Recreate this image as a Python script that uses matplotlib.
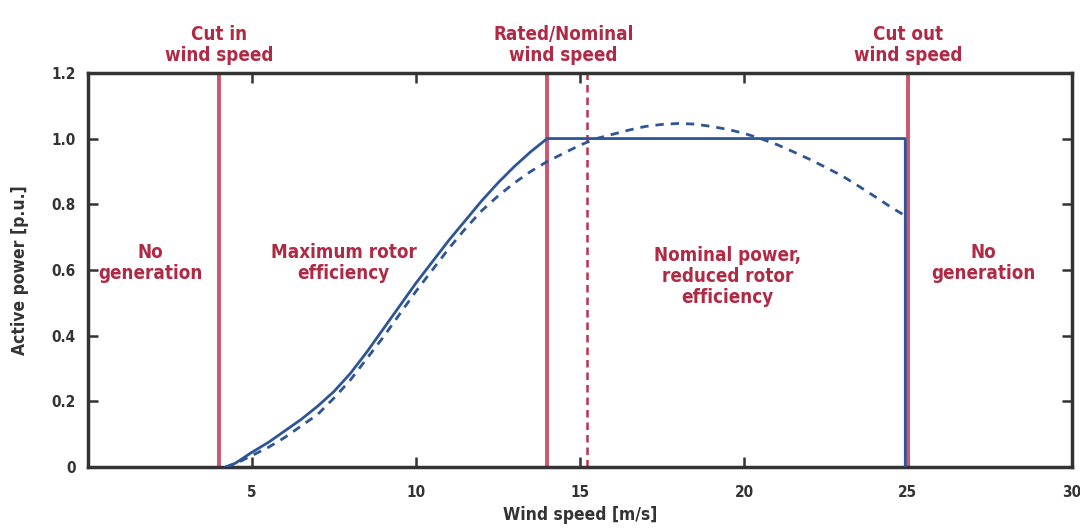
import matplotlib
matplotlib.use('Agg')
import matplotlib.pyplot as plt
from matplotlib import font_manager

# power curve, constant-speed rotor (solid) and reduced-efficiency rotor (dashed)
wind_solid = [4.2, 4.5, 5, 5.5, 6, 6.5, 7, 7.5, 8, 8.5, 9, 9.5, 10, 10.5, 11, 11.5,
              12, 12.5, 13, 13.5, 14, 24.92, 24.92]
power_solid = [0.0, 0.012, 0.045, 0.075, 0.11, 0.145, 0.185, 0.23, 0.285, 0.35, 0.42, 0.49,
               0.56, 0.625, 0.69, 0.75, 0.81, 0.865, 0.915, 0.96, 1.0, 1.0, 0.0]

wind_dashed = [4.2, 4.5, 5, 5.5, 6, 6.5, 7, 7.5, 8, 8.5, 9, 9.5, 10, 10.5, 11, 11.5, 12,
               12.5, 13, 13.5, 14, 14.5, 15, 15.5, 16, 16.5, 17, 17.5, 18, 18.5, 19, 19.5,
               20, 20.5, 21, 21.5, 22, 22.5, 23, 23.5, 24, 24.5, 25]
power_dashed = [0.0, 0.01, 0.035, 0.06, 0.09, 0.125, 0.16, 0.21, 0.265, 0.33, 0.395, 0.465,
                0.535, 0.6, 0.665, 0.725, 0.78, 0.825, 0.865, 0.9, 0.93, 0.955, 0.98, 1.0,
                1.013, 1.026, 1.037, 1.043, 1.046, 1.044, 1.037, 1.028, 1.016, 1.0, 0.982,
                0.96, 0.937, 0.912, 0.886, 0.855, 0.823, 0.79, 0.76]

cut_in = 4
rated = 14
rated_alt = 15.2
cut_out = 25

speed_labels = ["Cut in\nwind speed", "Rated/Nominal\nwind speed", "Cut out\nwind speed"]
speed_label_x = [4, 14.5, 25]
region_labels = ["No\ngeneration", "Maximum rotor\nefficiency",
                 "Nominal power,\nreduced rotor\nefficiency", "No\ngeneration"]
region_x = [1.9, 7.8, 19.5, 27.3]
region_y = [0.62, 0.62, 0.58, 0.62]

xticks = [0, 5, 10, 15, 20, 25, 30]
xticklabels = ["", "5", "10", "15", "20", "25", "30"]
yticks = [0, 0.2, 0.4, 0.6, 0.8, 1.0, 1.2]
yticklabels = ["0", "0.2", "0.4", "0.6", "0.8", "1.0", "1.2"]

# narrow bold face if available
names = {f.name for f in font_manager.fontManager.ttflist}
if 'Liberation Sans Narrow' in names:
    font = ['Liberation Sans Narrow', 'DejaVu Sans']
    stretch = 'normal'
else:
    font = ['DejaVu Sans']
    stretch = 'condensed'

blue = '#2e5596'
red_line = '#cc5570'
red_text = '#b02a45'
dark = '#333333'

fig = plt.figure(figsize=(10.8, 5.28), dpi=100)
ax = fig.add_axes([0.0815, 0.1155, 0.911, 0.7465])

for x in (cut_in, rated, cut_out):
    ax.axvline(x, color=red_line, lw=2.8, zorder=2)
ax.axvline(rated_alt, color='#c0304c', lw=1.8, ls=(0, (3, 2)), zorder=2)

ax.plot(wind_solid, power_solid, color=blue, lw=2.0, zorder=3)
ax.plot(wind_dashed, power_dashed, color=blue, lw=2.0, ls=(0, (3, 2.5)), zorder=3)

ax.set_xlim(0, 30)
ax.set_ylim(0, 1.2)
ax.set_xticks(xticks)
ax.set_xticklabels(xticklabels)
ax.set_yticks(yticks)
ax.set_yticklabels(yticklabels)
ax.tick_params(direction='in', length=7, width=1.8, color=dark, top=True, right=True,
               labelsize=11, labelcolor=dark)
ax.tick_params(axis='x', pad=13)
ax.tick_params(axis='y', pad=9)
for lab in ax.get_xticklabels() + ax.get_yticklabels():
    lab.set_family(font)
    lab.set_stretch(stretch)
    lab.set_weight('bold')
for s in ax.spines.values():
    s.set_linewidth(2.5)
    s.set_color(dark)

ax.set_xlabel("Wind speed [m/s]", family=font, stretch=stretch, fontsize=12.5,
              fontweight='bold', color=dark, labelpad=4)
ax.set_ylabel("Active power [p.u.]", family=font, stretch=stretch, fontsize=12.5,
              fontweight='bold', color=dark, labelpad=16)

for txt, x in zip(speed_labels, speed_label_x):
    ax.text(x, 1.225, txt, ha='center', va='bottom', family=font, stretch=stretch,
            fontsize=13.5, fontweight='bold', color=red_text, linespacing=1.1)
for txt, x, y in zip(region_labels, region_x, region_y):
    ax.text(x, y, txt, ha='center', va='center', family=font, stretch=stretch,
            fontsize=13.5, fontweight='bold', color=red_text, linespacing=1.15)

fig.savefig('out.png', dpi=100)
